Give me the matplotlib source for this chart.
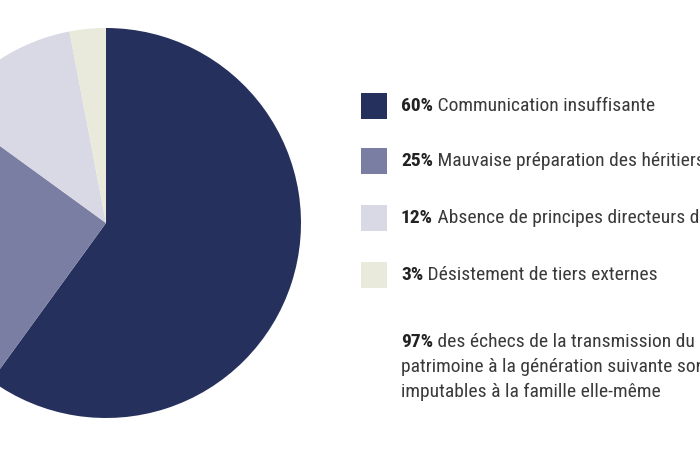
import matplotlib
matplotlib.use("Agg")
import matplotlib.pyplot as plt
from matplotlib.patches import Rectangle
from matplotlib import font_manager as fm

values = [60, 25, 12, 3]
labels = ["Communication insuffisante",
          "Mauvaise préparation des héritiers",
          "Absence de principes directeurs dans la famille",
          "Désistement de tiers externes"]
colors = ["#26305d", "#7b7ea3", "#d9d9e5", "#e9eadb"]
note_pct = "97%"
note_lines = [" des échecs de la transmission du",
              "patrimoine à la génération suivante sont",
              "imputables à la famille elle-même"]

available = {f.name for f in fm.fontManager.ttflist}
font = "Roboto"
for cand in ["Roboto Condensed", "Barlow Condensed", "Archivo Narrow", "Asap Condensed"]:
    if cand in available:
        font = cand
        break

W, H = 700, 450
fig = plt.figure(figsize=(W / 100, H / 100), dpi=100)
fig.patch.set_facecolor("white")
ax = fig.add_axes([0, 0, 1, 1])

ax.pie(values, colors=colors, startangle=90, counterclock=False,
       center=(106, H - 223), radius=195, frame=True,
       wedgeprops=dict(linewidth=0))
ax.set_xlim(0, W)
ax.set_ylim(0, H)
ax.set_aspect("equal")
ax.set_axis_off()

fs = 14
txtcol = "#3a3a3a"
boldcol = "#222222"
ys = [106, 161, 218, 275]
for v, lab, c, y in zip(values, labels, colors, ys):
    ax.add_patch(Rectangle((361, H - y - 13), 26, 26, facecolor=c, edgecolor="none"))
    t = ax.text(401, H - y, f"{v}%", fontsize=fs, fontweight="bold", family=font,
                color=boldcol, va="center", ha="left")
    ax.annotate(" " + lab, xy=(1, 0.5), xycoords=t, va="center", ha="left",
                fontsize=fs, family=font, color=txtcol, annotation_clip=False)

t = ax.text(401, H - 342, note_pct, fontsize=fs, fontweight="bold", family=font,
            color=boldcol, va="center", ha="left")
ax.annotate(note_lines[0], xy=(1, 0.5), xycoords=t, va="center", ha="left",
            fontsize=fs, family=font, color=txtcol, annotation_clip=False)
ax.text(401, H - 367, note_lines[1], fontsize=fs, family=font, color=txtcol,
        va="center", ha="left")
ax.text(401, H - 392, note_lines[2], fontsize=fs, family=font, color=txtcol,
        va="center", ha="left")

fig.savefig("out.png", dpi=100, facecolor="white")
